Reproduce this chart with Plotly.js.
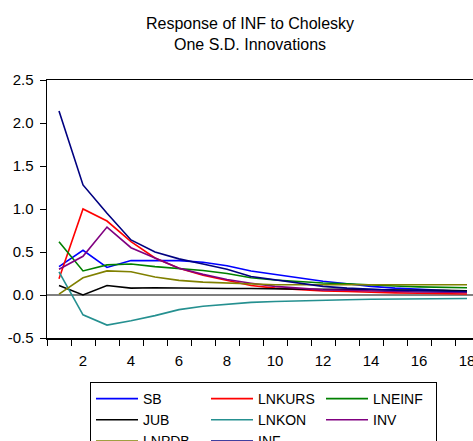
<!DOCTYPE html>
<html>
<head>
<meta charset="utf-8">
<script src="https://cdn.plot.ly/plotly-3.0.1.min.js"></script>
<style>
html, body { margin: 0; padding: 0; overflow: hidden; width: 473px; height: 441px; background: #fff; }
#chart { width: 490px; height: 460px; }
</style>
</head>
<body>
<div id="chart"></div>
<script>
const periods = [1,2,3,4,5,6,7,8,9,10,11,12,13,14,15,16,17,18];

const SB     = [0.33, 0.52, 0.32, 0.40, 0.40, 0.40, 0.38, 0.34, 0.28, 0.24, 0.195, 0.16, 0.13, 0.10, 0.08, 0.065, 0.05, 0.04];
const LNKURS = [0.19, 1.00, 0.86, 0.62, 0.43, 0.31, 0.23, 0.17, 0.11, 0.08, 0.06, 0.047, 0.04, 0.03, 0.025, 0.02, 0.015, 0.012];
const LNEINF = [0.62, 0.28, 0.35, 0.36, 0.33, 0.31, 0.285, 0.25, 0.20, 0.175, 0.156, 0.14, 0.13, 0.115, 0.105, 0.095, 0.09, 0.085];
const JUB    = [0.11, 0.00, 0.11, 0.08, 0.085, 0.08, 0.08, 0.075, 0.075, 0.07, 0.07, 0.065, 0.065, 0.06, 0.06, 0.055, 0.055, 0.05];
const LNKON  = [0.27, -0.23, -0.35, -0.30, -0.24, -0.17, -0.13, -0.105, -0.086, -0.075, -0.066, -0.06, -0.055, -0.05, -0.047, -0.045, -0.042, -0.04];
const INV    = [0.30, 0.45, 0.79, 0.55, 0.43, 0.31, 0.24, 0.18, 0.137, 0.10, 0.08, 0.06, 0.055, 0.045, 0.04, 0.035, 0.03, 0.03];
const LNPDB  = [0.01, 0.20, 0.28, 0.27, 0.21, 0.17, 0.15, 0.14, 0.125, 0.12, 0.12, 0.12, 0.12, 0.12, 0.12, 0.12, 0.12, 0.12];
const INF    = [2.14, 1.28, 0.95, 0.64, 0.50, 0.42, 0.36, 0.30, 0.215, 0.175, 0.137, 0.10, 0.08, 0.065, 0.055, 0.05, 0.045, 0.04];

const seriesNames = ["SB", "LNKURS", "LNEINF", "JUB", "LNKON", "INV", "LNPDB", "INF"];
const seriesValues = [SB, LNKURS, LNEINF, JUB, LNKON, INV, LNPDB, INF];
const seriesColors = ["#0000FF", "#FF0000", "#008000", "#000000", "#259090", "#800080", "#808000", "#000080"];

const xTickVals = [2, 4, 6, 8, 10, 12, 14, 16, 18];
const xTickLabels = ["2", "4", "6", "8", "10", "12", "14", "16", "18"];
const yTickVals = [-0.5, 0.0, 0.5, 1.0, 1.5, 2.0, 2.5];
const yTickLabels = ["-0.5", "0.0", "0.5", "1.0", "1.5", "2.0", "2.5"];

const titleText = "Response of INF to Cholesky<br>One S.D. Innovations";

const FONT = "Arial, 'Liberation Sans', sans-serif";

const traces = seriesNames.map((name, i) => ({
  type: "scatter",
  mode: "lines",
  name: name,
  x: periods,
  y: seriesValues[i],
  line: { color: seriesColors[i], width: 1.6 },
  hoverinfo: "skip"
}));

const layout = {
  width: 490,
  height: 460,
  margin: { l: 47, r: 11, t: 80, b: 122, autoexpand: false },
  paper_bgcolor: "#ffffff",
  plot_bgcolor: "#ffffff",
  font: { family: FONT, size: 15, color: "#000000" },
  title: {
    text: titleText,
    font: { family: FONT, size: 16, color: "#000000" },
    x: 250 / 490,
    xanchor: "center",
    xref: "container",
    y: 1 - 29 / 460,
    yanchor: "top",
    yref: "container"
  },
  showlegend: true,
  legend: {
    orientation: "h",
    x: (90 - 47) / 432,
    xanchor: "left",
    y: -(382 - 338) / 258,
    yanchor: "top",
    bgcolor: "#ffffff",
    bordercolor: "#000000",
    borderwidth: 1,
    font: { family: FONT, size: 14, color: "#000000" },
    entrywidth: 58,
    itemwidth: 42,
    traceorder: "normal"
  },
  xaxis: {
    range: [0.5, 18.5],
    tickmode: "array",
    tickvals: xTickVals,
    ticktext: xTickLabels,
    ticks: "",
    ticklabelstandoff: 8,
    showgrid: false,
    zeroline: false,
    showline: true,
    linecolor: "#000000",
    linewidth: 1.5,
    mirror: true,
    tickfont: { family: FONT, size: 15, color: "#000000" },
    minor: {
      tickmode: "linear",
      tick0: 0.5,
      dtick: 1,
      ticks: "outside",
      ticklen: 6,
      tickcolor: "#000000",
      tickwidth: 1,
      showgrid: false
    },
    fixedrange: true
  },
  yaxis: {
    range: [-0.5, 2.5],
    tickmode: "array",
    tickvals: yTickVals,
    ticktext: yTickLabels,
    ticks: "outside",
    ticklen: 6,
    ticklabelstandoff: 3,
    tickcolor: "#000000",
    tickwidth: 1,
    showgrid: false,
    zeroline: true,
    zerolinecolor: "#808080",
    zerolinewidth: 2,
    showline: true,
    linecolor: "#000000",
    linewidth: 1.5,
    mirror: true,
    tickfont: { family: FONT, size: 15, color: "#000000" },
    fixedrange: true
  }
};

Plotly.newPlot("chart", traces, layout, { displayModeBar: false, staticPlot: true });
</script>
</body>
</html>
